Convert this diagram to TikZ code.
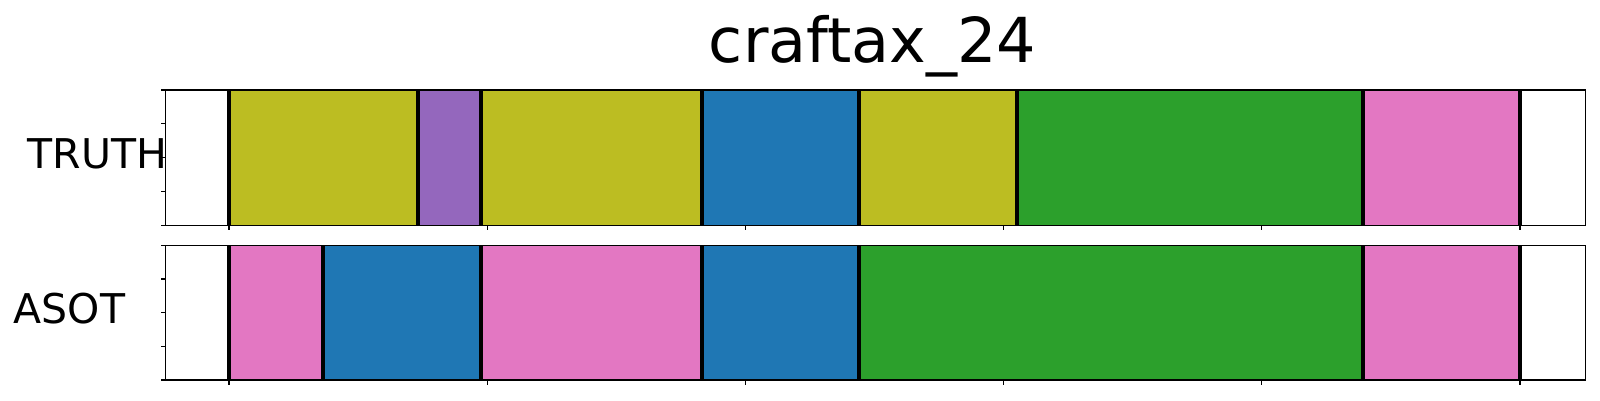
\documentclass[tikz,border=0pt]{standalone}
\usepackage{fontspec}
\setmainfont{DejaVu Sans}
\definecolor{tolive}{HTML}{BCBD22}
\definecolor{tpurple}{HTML}{9467BD}
\definecolor{tblue}{HTML}{1F77B4}
\definecolor{tgreen}{HTML}{2CA02C}
\definecolor{tpink}{HTML}{E377C2}
\tikzset{
  spine/.style={draw=black, line width=1.5pt},
  bound/.style={draw=black, line width=4pt},
  tick/.style={draw=black, line width=1.2pt},
  lab/.style={inner sep=0pt, font=\fontsize{41}{48}\selectfont},
  ttl/.style={inner sep=0pt, font=\fontsize{62}{72}\selectfont}
}
\begin{document}
\begin{tikzpicture}[x=1pt,y=-1pt]
\useasboundingbox (0,0) rectangle (1600,400);
\fill[white] (0,0) rectangle (1600,400);
% top axis segments
\foreach \a/\b/\c in {229/417.7/tolive, 417.7/480.7/tpurple, 480.7/701.7/tolive, 701.7/859/tblue, 859/1016.7/tolive, 1016.7/1362.7/tgreen, 1362.7/1520/tpink}
  \fill[\c] (\a,90) rectangle (\b,225.3);
\foreach \x in {229,417.7,480.7,701.7,859,1016.7,1362.7,1520}
  \draw[bound] (\x,90) -- (\x,225.3);
% bottom axis segments
\foreach \a/\b/\c in {229/323.3/tpink, 323.3/480.7/tblue, 480.7/701.7/tpink, 701.7/859/tblue, 859/1362.7/tgreen, 1362.7/1520/tpink}
  \fill[\c] (\a,245.3) rectangle (\b,380);
\foreach \x in {229,323.3,480.7,701.7,859,1362.7,1520}
  \draw[bound] (\x,245.3) -- (\x,380);
% spines
\draw[spine] (165.5,90) rectangle (1585.5,225.3);
\draw[spine] (165.5,245.3) rectangle (1585.5,380);
% y ticks
\foreach \y in {90,123.8,157.6,191.5,225.3}
  \draw[tick] (165.5,\y) -- (160.5,\y);
\foreach \y in {245.3,279,312.7,346.3,380}
  \draw[tick] (165.5,\y) -- (160.5,\y);
% x ticks
\foreach \x in {229,487.2,745.4,1003.6,1261.8,1520} {
  \draw[tick] (\x,225.3) -- (\x,230.3);
  \draw[tick] (\x,380) -- (\x,385);
}
% labels
\node[ttl, anchor=base] (title) at (872.5,62.3) {craftax\_24};
\node[lab, anchor=base west] (truth) at (27.5,168.3) {TRUTH};
\node[lab, anchor=base west] (asot) at (13.5,323.3) {ASOT};
\end{tikzpicture}
\end{document}
